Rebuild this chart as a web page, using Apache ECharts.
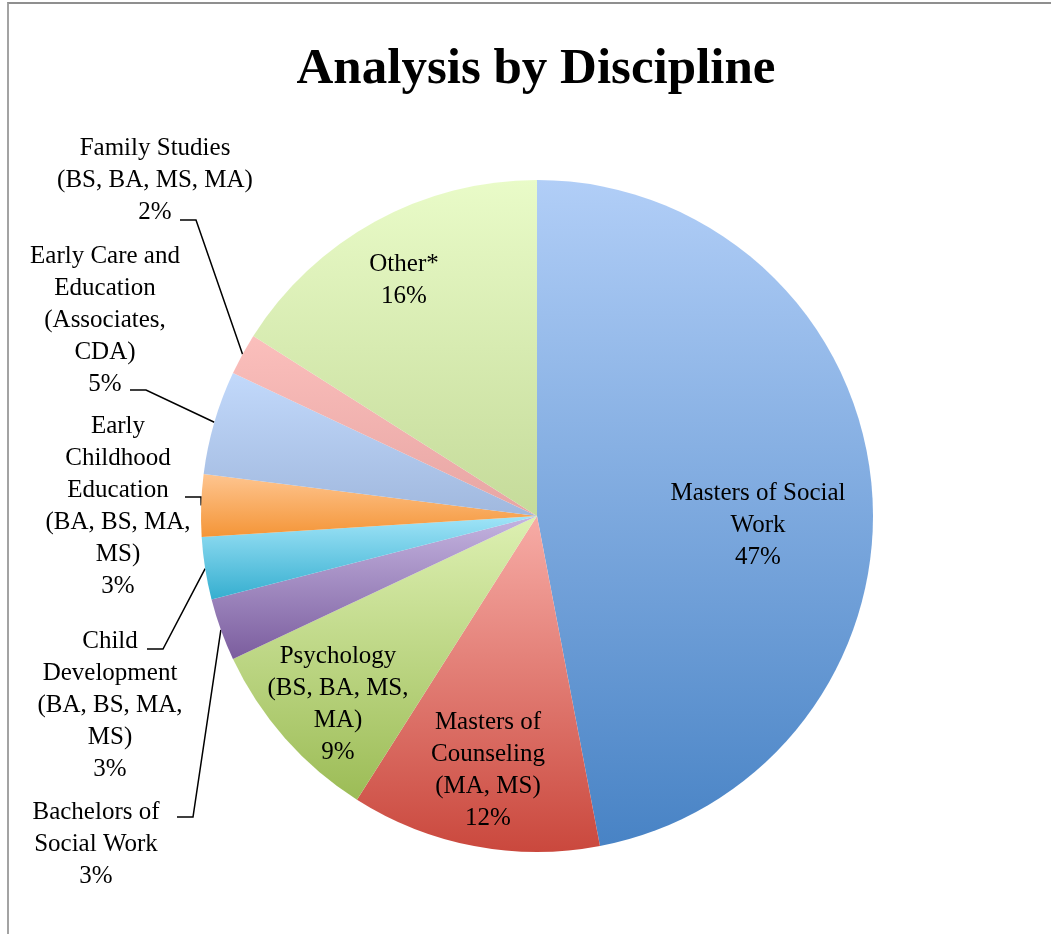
<!DOCTYPE html>
<html>
<head>
<meta charset="utf-8">
<script src="https://cdn.jsdelivr.net/npm/echarts@6/dist/echarts.min.js"></script>
<style>
    html, body { margin: 0; padding: 0; background: #fff; overflow: hidden; }
    #main { width: 1051px; height: 934px; position: absolute; left: 0; top: 0; }
    #frame {
        position: absolute; left: 7px; top: 2px; width: 2000px; height: 2000px;
        border-left: 2px solid #a3a3a3; border-top: 2px solid #8f8f8f;
        pointer-events: none;
    }
</style>
</head>
<body>
<div id="main"></div>
<div id="frame"></div>
<script>
// data, clockwise from 12 o'clock
const names = [
    'Masters of Social\nWork',
    'Masters of\nCounseling\n(MA, MS)',
    'Psychology\n(BS, BA, MS,\nMA)',
    'Bachelors of\nSocial Work',
    'Child\nDevelopment\n(BA, BS, MA,\nMS)',
    'Early\nChildhood\nEducation\n(BA, BS, MA,\nMS)',
    'Early Care and\nEducation\n(Associates,\nCDA)',
    'Family Studies\n(BS, BA, MS, MA)',
    'Other*'
]
const values = [47, 12, 9, 3, 3, 3, 5, 2, 16]
const insideLabel = [true, true, true, false, false, false, false, false, true]

const topColors = ['#b1cef7', '#f7aca6', '#ddf0b2', '#c4b4e0', '#a0e4f8', '#fec590', '#c2d9fb', '#fbbfbc', '#e9fbc8']
const bottomColors = ['#4883c5', '#ca483d', '#9cbc56', '#7b5d9e', '#35aecf', '#f49537', '#a0b8de', '#e7a5a3', '#c5db9a']

// label placement: centre x, top y; for outside labels the elbow of the leader line
const labelPos = [
    {x: 758, y: 477},
    {x: 488, y: 706},
    {x: 338, y: 640},
    {x: 96, y: 796, lineX: 177, lineY: 817},
    {x: 110, y: 625, lineX: 147, lineY: 649},
    {x: 118, y: 410, lineX: 185, lineY: 497},
    {x: 105, y: 240, lineX: 130, lineY: 390},
    {x: 155, y: 132, lineX: 180, lineY: 220},
    {x: 404, y: 248}
]

const chart = echarts.init(document.getElementById('main'))

chart.setOption({
    animation: false,
    title: {
        text: 'Analysis by Discipline',
        left: 531,
        textAlign: 'center',
        top: 39,
        textStyle: {
            fontFamily: 'Liberation Serif',
            fontWeight: 'bold',
            fontSize: 51,
            color: '#000'
        }
    },
    series: [{
        type: 'pie',
        center: [537, 516],
        radius: 336,
        startAngle: 90,
        clockwise: true,
        avoidLabelOverlap: false,
        label: {
            show: true,
            position: 'outside',
            formatter: '{b}\n{d}%',
            fontFamily: 'Liberation Serif',
            fontSize: 25,
            lineHeight: 32,
            color: '#000',
            width: 320,
            overflow: 'none'
        },
        labelLine: {
            show: true,
            lineStyle: {color: '#000', width: 1.5}
        },
        labelLayout: function (params) {
            const p = labelPos[params.dataIndex]
            const res = {x: p.x, y: p.y, align: 'center', verticalAlign: 'top'}
            if (p.lineX != null && params.labelLinePoints) {
                const p0 = params.labelLinePoints[0]
                res.labelLinePoints = [p0, [p.lineX + 16, p.lineY], [p.lineX, p.lineY]]
            }
            return res
        },
        emphasis: {disabled: true},
        data: names.map((n, i) => ({
            name: n,
            value: values[i],
            label: insideLabel[i] ? {position: 'inside'} : {},
            labelLine: {show: !insideLabel[i]},
            itemStyle: {
                borderWidth: 0,
                color: {
                    type: 'linear', x: 0, y: 0, x2: 0, y2: 1,
                    colorStops: [
                        {offset: 0, color: topColors[i]},
                        {offset: 1, color: bottomColors[i]}
                    ]
                }
            }
        }))
    }]
})
</script>
</body>
</html>
